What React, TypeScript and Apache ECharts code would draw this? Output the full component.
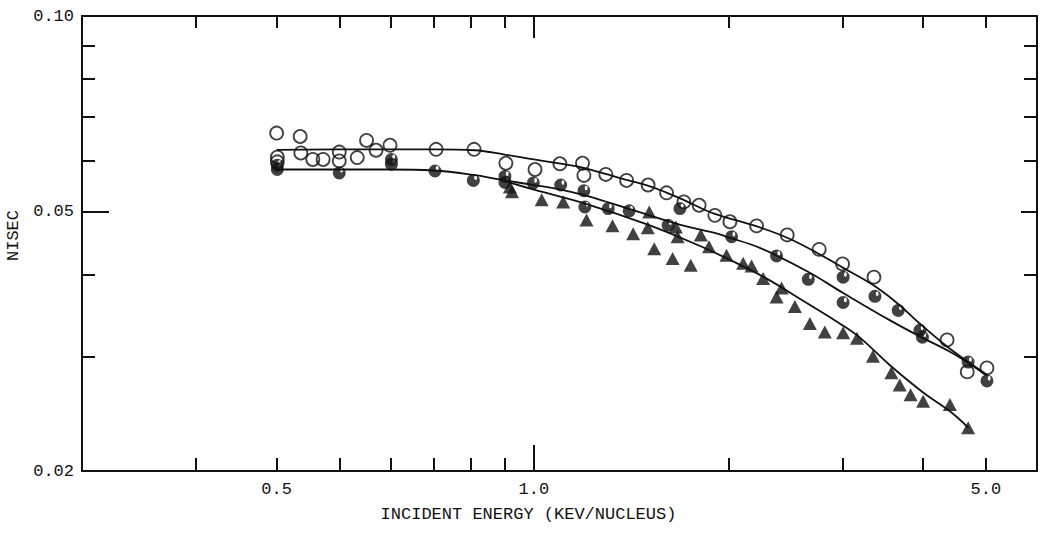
import React, { useEffect, useRef } from 'react';
import * as echarts from 'echarts';

// Axis ticks and labels (values on the drawn log scales)
const xTickValues = [0.3, 0.4, 0.5, 0.6, 0.7, 0.8, 0.9, 1, 2, 3, 4, 5];
const xLongTickValues = [1];
const xLabelValues = [0.4, 1, 5];
const xLabelTexts = ['0.5', '1.0', '5.0'];
const yTickValues = [0.03, 0.04, 0.05, 0.06, 0.07, 0.08, 0.09];
const yLongTickValues = [0.05];
const yLabelValues = [0.02, 0.05, 0.1];
const yLabelTexts = ['0.02', '0.05', '0.10'];

// Open circles
const openE = [0.400, 0.435, 0.436, 0.401, 0.401, 0.455, 0.472, 0.500, 0.500, 0.533, 0.551, 0.570, 0.599, 0.706, 0.808, 0.905, 1.004, 1.097, 1.189, 1.195, 1.292, 1.391, 1.502, 1.604, 1.706, 1.801, 1.905, 2.010, 2.210, 2.465, 2.762, 3.002, 3.357, 4.356, 4.680, 5.020];
const openV = [0.0661, 0.0653, 0.0616, 0.0607, 0.0597, 0.0602, 0.0602, 0.0618, 0.0599, 0.0606, 0.0644, 0.0622, 0.0633, 0.0624, 0.0624, 0.0594, 0.0581, 0.0593, 0.0594, 0.0569, 0.0571, 0.0559, 0.0550, 0.0535, 0.0518, 0.0512, 0.0494, 0.0483, 0.0476, 0.0461, 0.0438, 0.0416, 0.0397, 0.0318, 0.0284, 0.0288];

// Half-filled circles
const halfE = [0.401, 0.401, 0.500, 0.602, 0.602, 0.703, 0.806, 0.902, 0.902, 0.998, 1.100, 1.195, 1.199, 1.303, 1.404, 1.613, 1.682, 2.022, 2.373, 2.657, 3.008, 3.008, 3.369, 3.660, 3.954, 3.990, 4.695, 5.020];
const halfV = [0.0581, 0.0590, 0.0574, 0.0602, 0.0592, 0.0578, 0.0559, 0.0567, 0.0555, 0.0554, 0.0550, 0.0539, 0.0509, 0.0506, 0.0502, 0.0477, 0.0506, 0.0458, 0.0428, 0.0394, 0.0397, 0.0363, 0.0371, 0.0353, 0.0329, 0.0321, 0.0294, 0.0275];

// Filled triangles
const triE = [0.918, 0.925, 1.028, 1.110, 1.206, 1.323, 1.424, 1.508, 1.500, 1.535, 1.639, 1.658, 1.668, 1.748, 1.812, 1.866, 1.986, 2.107, 2.171, 2.262, 2.373, 2.416, 2.533, 2.672, 2.818, 3.008, 3.160, 3.345, 3.572, 3.680, 3.825, 4.000, 4.400, 4.695];
const triV = [0.0546, 0.0537, 0.0522, 0.0518, 0.0486, 0.0476, 0.0463, 0.0500, 0.0473, 0.0439, 0.0424, 0.0474, 0.0458, 0.0414, 0.0461, 0.0442, 0.0429, 0.0417, 0.0413, 0.0395, 0.0370, 0.0382, 0.0358, 0.0337, 0.0327, 0.0326, 0.0320, 0.0300, 0.0283, 0.0271, 0.0262, 0.0256, 0.0253, 0.0233];

// Fitted curves
const topCurveE = [0.40, 0.55, 0.70, 0.81, 0.905, 1.0, 1.1, 1.19, 1.29, 1.39, 1.5, 1.6, 1.71, 1.9, 2.2, 2.47, 2.76, 3.0, 3.36, 3.66, 3.95, 4.35, 4.7, 5.02];
const topCurveV = [0.0623, 0.0624, 0.0624, 0.0622, 0.0612, 0.0602, 0.0593, 0.0585, 0.0572, 0.0560, 0.0549, 0.0536, 0.0521, 0.0497, 0.0476, 0.0456, 0.0431, 0.0411, 0.0385, 0.0361, 0.0337, 0.0311, 0.0294, 0.0281];
const midCurveE = [0.40, 0.60, 0.70, 0.806, 0.902, 1.0, 1.1, 1.2, 1.33, 1.49, 1.68, 1.89, 2.0, 2.24, 2.65, 3.0, 3.55, 3.95, 4.4, 4.7, 5.02];
const midCurveV = [0.0581, 0.0581, 0.0579, 0.0570, 0.0559, 0.0550, 0.0541, 0.0530, 0.0514, 0.0496, 0.0478, 0.0465, 0.0457, 0.0440, 0.0405, 0.0376, 0.0341, 0.0322, 0.0305, 0.0293, 0.0280];
const triCurveE = [0.90, 1.0, 1.2, 1.5, 1.8, 2.0, 2.28, 2.6, 3.0, 3.2, 3.55, 4.0, 4.4, 4.7];
const triCurveV = [0.0558, 0.0541, 0.0515, 0.0478, 0.0444, 0.0423, 0.0396, 0.0366, 0.0335, 0.0320, 0.0291, 0.0264, 0.0247, 0.0233];

const FONT = 'Liberation Mono, DejaVu Sans Mono, monospace';
const INK = '#111';

const HALF_SYMBOL =
  'path://M10,0A10,10,0,1,1,10,20A10,10,0,1,1,10,0ZM13.5,2.5A2.2,3.5,0,1,0,13.5,9.5A2.2,3.5,0,1,0,13.5,2.5Z';

const pairs = (xs: number[], ys: number[]) => xs.map((x, i) => [x, ys[i]]);
const near = (a: number, b: number) => Math.abs(a - b) / b < 1e-3;
const fmt = (vals: number[], texts: string[]) => (v: number) => {
  const i = vals.findIndex((u) => near(v, u));
  return i >= 0 ? texts[i] : '';
};

function makeX(position: 'top' | 'bottom', ticks: number[], len: number, main: boolean, line: boolean) {
  return {
    type: 'log',
    logBase: 10,
    min: 0.2,
    max: 6,
    position,
    splitLine: { show: false },
    minorTick: { show: false },
    axisLine: { show: line, lineStyle: { color: INK, width: 2 } },
    axisTick: { show: true, inside: true, length: len, customValues: ticks, lineStyle: { color: INK, width: 2 } },
    axisLabel: main
      ? { show: true, customValues: xLabelValues, formatter: fmt(xLabelValues, xLabelTexts), margin: 10, color: INK, fontFamily: FONT, fontSize: 17 }
      : { show: false },
    name: main ? 'INCIDENT ENERGY (KEV/NUCLEUS)' : '',
    nameLocation: 'middle',
    nameGap: 35,
    nameTextStyle: { color: INK, fontFamily: FONT, fontSize: 17, padding: [0, 62, 0, 0] },
  };
}

function makeY(position: 'left' | 'right', ticks: number[], len: number, main: boolean, line: boolean) {
  return {
    type: 'log',
    logBase: 10,
    min: 0.02,
    max: 0.1,
    position,
    splitLine: { show: false },
    minorTick: { show: false },
    axisLine: { show: line, lineStyle: { color: INK, width: 2 } },
    axisTick: { show: true, inside: true, length: len, customValues: ticks, lineStyle: { color: INK, width: 2 } },
    axisLabel: main
      ? { show: true, customValues: yLabelValues, formatter: fmt(yLabelValues, yLabelTexts), margin: 8, color: INK, fontFamily: FONT, fontSize: 17 }
      : { show: false },
    name: main ? 'NISEC' : '',
    nameLocation: 'middle',
    nameGap: 54,
    nameTextStyle: { color: INK, fontFamily: FONT, fontSize: 17, padding: [0, 0, 0, 16] },
  };
}

const lineSeries = (xs: number[], ys: number[]) => ({
  type: 'line',
  data: pairs(xs, ys),
  smooth: 0.4,
  showSymbol: false,
  symbol: 'none',
  lineStyle: { color: INK, width: 1.8 },
  z: 1,
  silent: true,
});

export default function App() {
  const ref = useRef<HTMLDivElement>(null);
  useEffect(() => {
    if (!ref.current) return;
    const chart = echarts.init(ref.current, null, { renderer: 'svg' });
    chart.setOption({
      animation: false,
      backgroundColor: '#fff',
      grid: { left: 82, right: 8, top: 16, bottom: 63, containLabel: false, outerBoundsMode: 'none' },
      xAxis: [
        makeX('bottom', xTickValues, 13, true, true),
        makeX('top', xTickValues, 12, false, true),
        makeX('bottom', xLongTickValues, 26, false, false),
        makeX('top', xLongTickValues, 22, false, false),
      ],
      yAxis: [
        makeY('left', yTickValues, 13, true, true),
        makeY('right', yTickValues, 13, false, true),
        makeY('left', yLongTickValues, 27, false, false),
        makeY('right', yLongTickValues, 16, false, false),
      ],
      series: [
        lineSeries(topCurveE, topCurveV),
        lineSeries(midCurveE, midCurveV),
        lineSeries(triCurveE, triCurveV),
        {
          type: 'scatter',
          data: pairs(openE, openV),
          symbol: 'circle',
          symbolSize: 13,
          itemStyle: { color: 'rgba(0,0,0,0)', borderColor: INK, borderWidth: 1.8 },
          z: 3,
        },
        {
          type: 'scatter',
          data: pairs(halfE, halfV),
          symbol: HALF_SYMBOL,
          symbolSize: 13,
          itemStyle: { color: INK },
          z: 3,
        },
        {
          type: 'scatter',
          data: pairs(triE, triV),
          symbol: 'triangle',
          symbolSize: [14, 13],
          itemStyle: { color: INK },
          z: 3,
        },
      ],
    });
    return () => chart.dispose();
  }, []);
  return (
    <div
      ref={ref}
      style={{ position: 'absolute', left: 0, top: 0, width: 1045, height: 534, background: '#fff' }}
    />
  );
}
